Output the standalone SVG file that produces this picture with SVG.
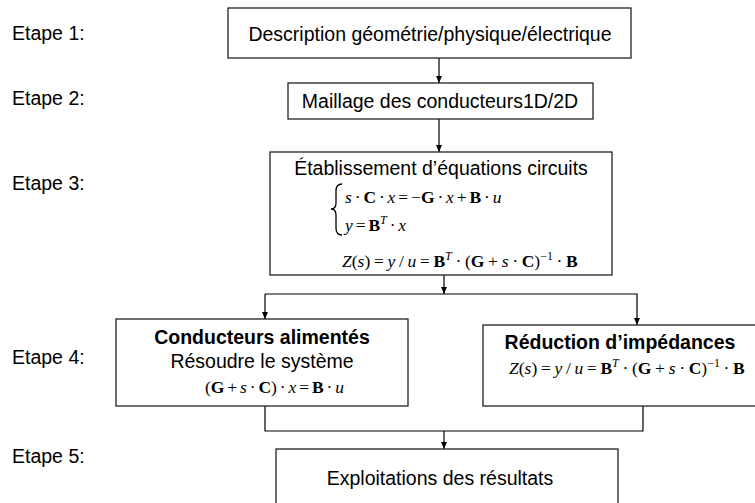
<svg xmlns="http://www.w3.org/2000/svg" width="755" height="503" viewBox="0 0 755 503">
<defs>
<marker id="ah" markerWidth="8" markerHeight="8" refX="7" refY="4" orient="auto" markerUnits="userSpaceOnUse">
<path d="M0,1 L7,4 L0,7 Z" fill="#000"/>
</marker>
<style>
.box{fill:#fff;stroke:#222;stroke-width:1.3}
.lbl{font-family:"Liberation Sans",Arial,sans-serif;font-size:19.5px;fill:#000}
.t{font-family:"Liberation Sans",Arial,sans-serif;font-size:19.5px;fill:#000}
.b{font-family:"Liberation Sans",Arial,sans-serif;font-size:19.5px;font-weight:bold;fill:#000}
.m{font-family:"Liberation Serif","Times New Roman",serif;font-size:17.5px;word-spacing:-1.5px;fill:#000}
.z{word-spacing:-0.7px}
.i{font-style:italic}
.bf{font-weight:bold}
.sup{font-size:12px}
.con{fill:none;stroke:#000;stroke-width:1.2}
</style>
</defs>
<rect width="755" height="503" fill="#fff"/>
<g id="labels">
<text class="lbl" x="12" y="40">Etape 1:</text>
<text class="lbl" x="12" y="105">Etape 2:</text>
<text class="lbl" x="12" y="190">Etape 3:</text>
<text class="lbl" x="12" y="364">Etape 4:</text>
<text class="lbl" x="12" y="463">Etape 5:</text>
</g>
<g id="connectors">
<line class="con" x1="439" y1="58" x2="439" y2="83" marker-end="url(#ah)"/>
<line class="con" x1="439" y1="119" x2="439" y2="152" marker-end="url(#ah)"/>
<line class="con" x1="444" y1="275" x2="444" y2="294" marker-end="url(#ah)"/>
<polyline class="con" points="265,294 637,294 637,325" marker-end="url(#ah)"/>
<line class="con" x1="265" y1="294" x2="265" y2="319" marker-end="url(#ah)"/>
<polyline class="con" points="265,406 265,431 643,431 643,406"/>
<line class="con" x1="444" y1="431" x2="444" y2="449" marker-end="url(#ah)"/>
</g>
<g id="n1">
<rect class="box" x="228" y="8" width="403" height="50"/>
<text class="t" x="430" y="41" text-anchor="middle">Description géométrie/physique/électrique</text>
</g>
<g id="n2">
<rect class="box" x="288" y="83" width="305" height="36"/>
<text class="t" x="440" y="108" text-anchor="middle">Maillage des conducteurs1D/2D</text>
</g>
<g id="n3">
<rect class="box" x="270" y="152" width="342" height="123"/>
<text class="t" x="441" y="175" text-anchor="middle">Établissement d’équations circuits</text>
<path d="M342,184 Q336,184 336,191 L336,203 Q336,209 331,209 Q336,209 336,215 L336,228 Q336,235 342,235" fill="none" stroke="#000" stroke-width="1.3"/>
<text class="m" x="345" y="203"><tspan class="i">s</tspan> · <tspan class="bf">C</tspan> · <tspan class="i">x</tspan> = −<tspan class="bf">G</tspan> · <tspan class="i">x</tspan> + <tspan class="bf">B</tspan> · <tspan class="i">u</tspan></text>
<text class="m" x="345" y="231"><tspan class="i">y</tspan> = <tspan class="bf">B</tspan><tspan class="i sup" dy="-7">T</tspan><tspan dy="7"> · </tspan><tspan class="i">x</tspan></text>
<text class="m z" x="342" y="267"><tspan class="i">Z</tspan>(<tspan class="i">s</tspan>) = <tspan class="i">y</tspan> / <tspan class="i">u</tspan> = <tspan class="bf">B</tspan><tspan class="i sup" dy="-7">T</tspan><tspan dy="7"> · (</tspan><tspan class="bf">G</tspan> + <tspan class="i">s</tspan> · <tspan class="bf">C</tspan>)<tspan class="sup" dy="-7">−1</tspan><tspan dy="7"> · </tspan><tspan class="bf">B</tspan></text>
</g>
<g id="n4">
<rect class="box" x="116" y="319" width="292" height="87"/>
<text class="b" x="262" y="344" text-anchor="middle">Conducteurs alimentés</text>
<text class="t" x="262" y="368" text-anchor="middle">Résoudre le système</text>
<text class="m" x="205" y="393">(<tspan class="bf">G</tspan> + <tspan class="i">s</tspan> · <tspan class="bf">C</tspan>) · <tspan class="i">x</tspan> = <tspan class="bf">B</tspan> · <tspan class="i">u</tspan></text>
</g>
<g id="n5">
<rect class="box" x="483" y="325" width="290" height="81"/>
<text class="b" x="620" y="349" text-anchor="middle">Réduction d’impédances</text>
<text class="m z" x="509" y="374"><tspan class="i">Z</tspan>(<tspan class="i">s</tspan>) = <tspan class="i">y</tspan> / <tspan class="i">u</tspan> = <tspan class="bf">B</tspan><tspan class="i sup" dy="-7">T</tspan><tspan dy="7"> · (</tspan><tspan class="bf">G</tspan> + <tspan class="i">s</tspan> · <tspan class="bf">C</tspan>)<tspan class="sup" dy="-7">−1</tspan><tspan dy="7"> · </tspan><tspan class="bf">B</tspan></text>
</g>
<g id="n6">
<rect class="box" x="276" y="449" width="342" height="70"/>
<text class="t" x="440" y="485" text-anchor="middle">Exploitations des résultats</text>
</g>
</svg>
